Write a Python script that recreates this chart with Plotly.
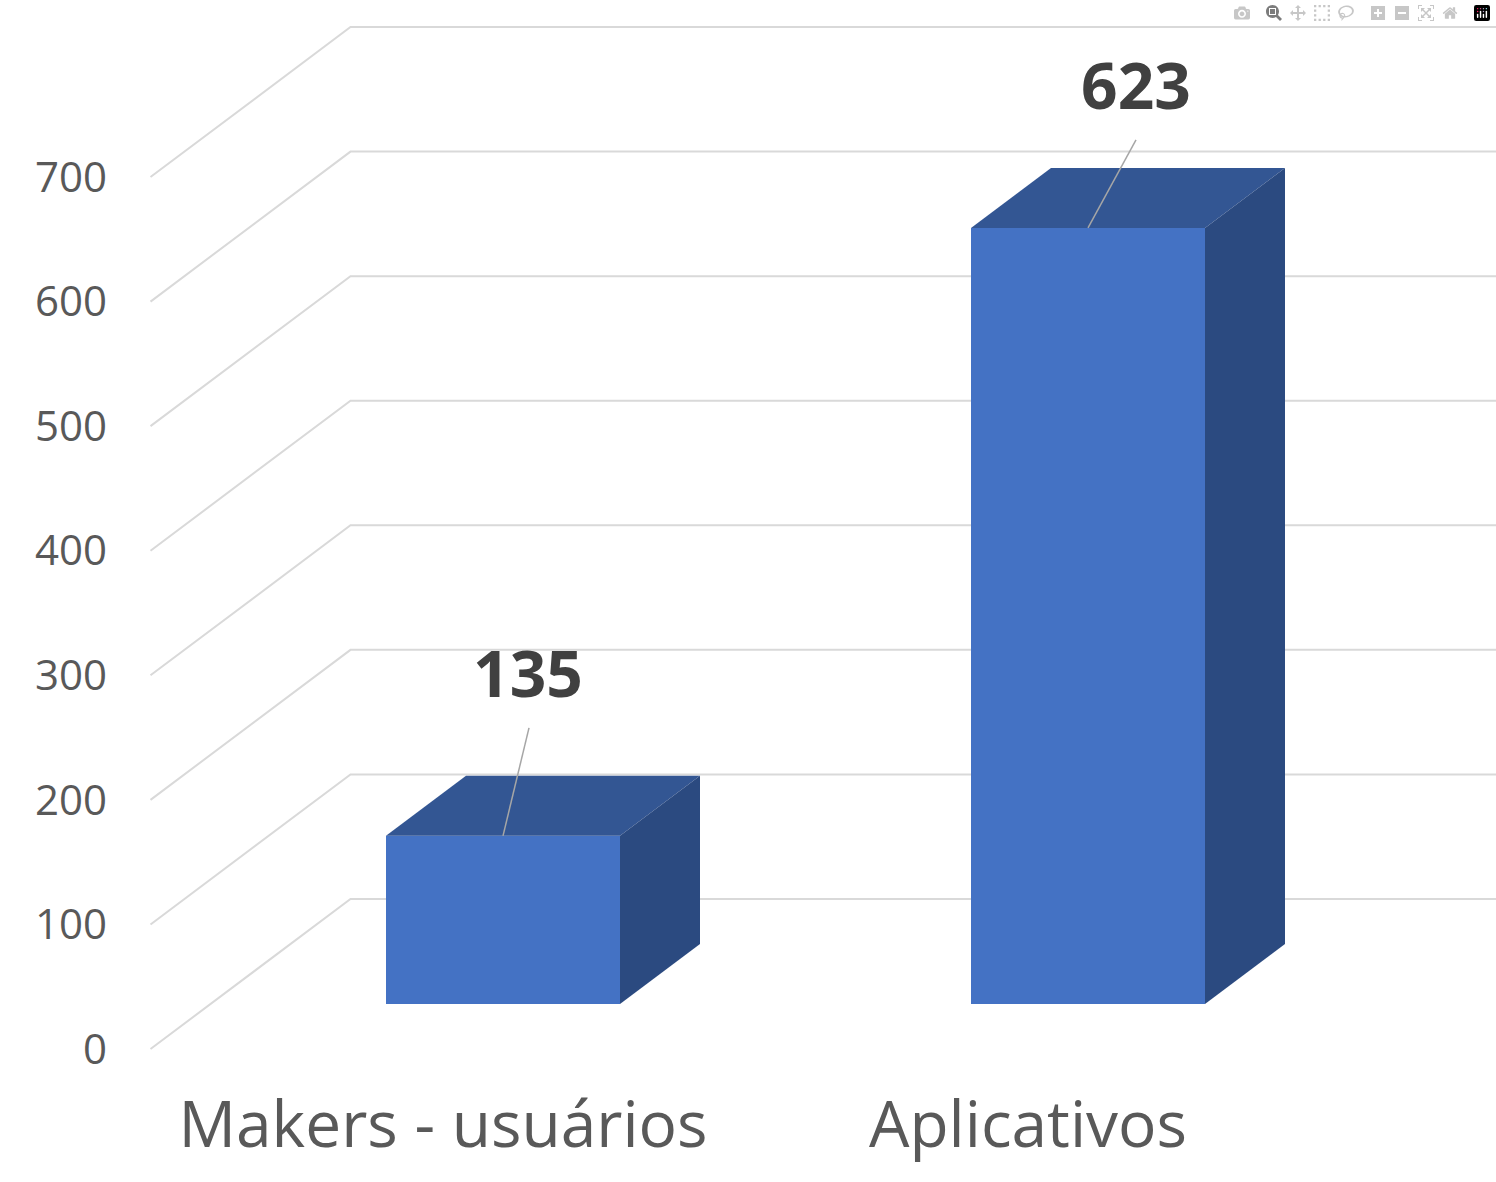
import plotly.graph_objects as go

categories = ["Makers - usuários", "Aplicativos"]
values = [135, 623]
y_ticks = [0, 100, 200, 300, 400, 500, 600, 700]

# oblique projection, depth 1 = full floor of the chart
PX_PER_VALUE = 1.2457
PX_PER_CAT = 585
DEPTH_X = 200 / PX_PER_CAT
DEPTH_Y = 150 / PX_PER_VALUE
BAR_WIDTH = 0.4
BAR_FRONT = 0.3
BAR_BACK = 0.7

WIDTH, HEIGHT = 1496, 1182
M_LEFT, M_BOTTOM = 110, 122
CAT0_PX = 443
ZERO_PX = 1049

# hand placed data labels, pixels away from the bar's front edge
label_shift = [(25, 155), (48, 135)]
leader_end = [(26, 108), (48, 88)]


def proj(x, depth, v):
    return x + depth * DEPTH_X, v + depth * DEPTH_Y


xrange = [(M_LEFT - CAT0_PX) / PX_PER_CAT, (WIDTH - CAT0_PX) / PX_PER_CAT]
yrange = [(ZERO_PX - (HEIGHT - M_BOTTOM)) / PX_PER_VALUE, ZERO_PX / PX_PER_VALUE]

fig = go.Figure()

# gridlines on the floor-to-wall diagonal and along the back wall
grid_x, grid_y = [], []
for v in y_ticks:
    x0, y0 = proj(-0.5, 0, v)
    x1, y1 = proj(-0.5, 1, v)
    grid_x += [x0, x1, xrange[1], None]
    grid_y += [y0, y1, y1, None]
fig.add_trace(go.Scatter(x=grid_x, y=grid_y, mode="lines",
                         line=dict(color="#D9D9D9", width=2), hoverinfo="skip"))

# invisible helper so the category labels and value ticks stay on the main axes
fig.add_trace(go.Scatter(x=[0, 1], y=[0, 0], mode="markers",
                         marker=dict(opacity=0), hoverinfo="skip"))

centers = [proj(i, BAR_FRONT, 0)[0] for i in range(len(values))]
base = proj(0, BAR_FRONT, 0)[1]

fig.add_trace(go.Bar(x=centers, y=values, base=base, width=BAR_WIDTH,
                     marker=dict(color="#4472C4", line=dict(width=0)),
                     xaxis="x2", yaxis="y2"))

for c, v, shift, end in zip(centers, values, label_shift, leader_end):
    left = c - BAR_WIDTH / 2
    right = c + BAR_WIDTH / 2
    dd = BAR_BACK - BAR_FRONT
    top = v + base
    fig.add_trace(go.Scatter(
        x=[left, right, right + dd * DEPTH_X, left + dd * DEPTH_X, left],
        y=[top, top, top + dd * DEPTH_Y, top + dd * DEPTH_Y, top],
        mode="lines", fill="toself", fillcolor="#335693", line=dict(width=0),
        xaxis="x2", yaxis="y2", hoverinfo="skip"))
    fig.add_trace(go.Scatter(
        x=[right, right + dd * DEPTH_X, right + dd * DEPTH_X, right, right],
        y=[top, top + dd * DEPTH_Y, base + dd * DEPTH_Y, base, top],
        mode="lines", fill="toself", fillcolor="#2B4A80", line=dict(width=0),
        xaxis="x2", yaxis="y2", hoverinfo="skip"))
    fig.add_trace(go.Scatter(
        x=[c, c + end[0] / PX_PER_CAT],
        y=[top, top + end[1] / PX_PER_VALUE],
        mode="lines", line=dict(color="#A6A6A6", width=1.5),
        xaxis="x2", yaxis="y2", hoverinfo="skip"))
    fig.add_trace(go.Scatter(
        x=[c + shift[0] / PX_PER_CAT],
        y=[top + shift[1] / PX_PER_VALUE],
        mode="text", text=[str(v)], textposition="middle center",
        textfont=dict(family="Open Sans", size=64, color="#404040", weight="bold"),
        xaxis="x2", yaxis="y2", hoverinfo="skip"))

fig.update_layout(
    width=WIDTH,
    height=HEIGHT,
    margin=dict(l=M_LEFT, r=0, t=0, b=M_BOTTOM, pad=0),
    paper_bgcolor="white",
    plot_bgcolor="white",
    showlegend=False,
    xaxis=dict(range=xrange, tickvals=[0, 1], ticktext=categories,
               showgrid=False, zeroline=False, showline=False, ticks="",
               ticklabelstandoff=22,
               tickfont=dict(family="Open Sans", size=64, color="#595959")),
    yaxis=dict(range=yrange, tickvals=y_ticks, showgrid=False, zeroline=False,
               showline=False, ticks="", ticklabelstandoff=2,
               tickfont=dict(family="Open Sans", size=42, color="#595959")),
    xaxis2=dict(range=xrange, overlaying="x", visible=False),
    yaxis2=dict(range=yrange, overlaying="y", visible=False),
)

fig.write_html("out.html", post_script="document.body.style.margin='0';")
